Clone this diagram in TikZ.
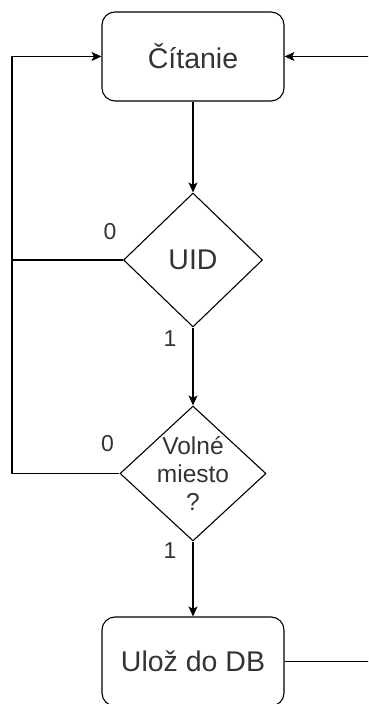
\documentclass[tikz,border=0pt]{standalone}
\usepackage{fontspec}
\setmainfont{Liberation Sans}
\usetikzlibrary{shapes.geometric,arrows.meta}
\begin{document}
\begin{tikzpicture}[x=1pt, y=1pt, >={Stealth[length=10pt,width=9pt,inset=2.5pt]}, line join=round, line width=1.1pt,
		blok/.style={draw, rectangle, rounded corners=13pt, minimum width=182pt, minimum height=89pt, inner sep=0pt, text=black!80, font=\fontsize{28.5}{32}\selectfont},
		rozh/.style={draw, diamond, inner sep=0pt, text=black!80, font=\fontsize{28.5}{32}\selectfont},
		txt/.style={align=center, text=black!80, font=\fontsize{24.5}{28}\selectfont},
		cislo/.style={text=black!80, font=\fontsize{23}{26}\selectfont}]
			\useasboundingbox (0,0) rectangle (368,704);
			\clip (0,0) rectangle (368,704);
			\def\xs{193}
			% uzly
			\node[blok] (citanie) at (\xs,647.5) {Čítanie};
			\node[rozh, minimum width=139pt, minimum height=134pt] (uid) at (\xs,444) {UID};
			\node[rozh, minimum width=146pt, minimum height=135pt] (miesto) at (\xs,230.5) {};
			\node[txt] (miestotxt) at (miesto) {Volné\\miesto\\?};
			\node[blok] (uloz) at (\xs,42.5) {Ulož do DB};
			\coordinate (rail) at (12,0);
			\coordinate (pravo) at (380,0);
			% spojenia
			\draw[->] (citanie) -- (uid);
			\draw[->] (uid) -- node[cislo, pos=0, xshift=-23pt, yshift=-11pt] (uid1) {1} (miesto);
			\draw (uid.west) -- node[cislo, pos=0, xshift=-13pt, yshift=28pt] (uid0) {0} (uid.west -| rail);
			\draw[->] (miesto.west) -- node[cislo, pos=0, xshift=-12pt, yshift=29.5pt] (miesto0) {0} (miesto.west -| rail) |- (citanie.west);
			\draw[->] (miesto) -- node[cislo, pos=0, xshift=-23pt, yshift=-9pt] (miesto1) {1} (uloz);
			\draw[->] (uloz.east) -- (uloz.east -| pravo) |- (citanie.east);
		\end{tikzpicture}
\end{document}
